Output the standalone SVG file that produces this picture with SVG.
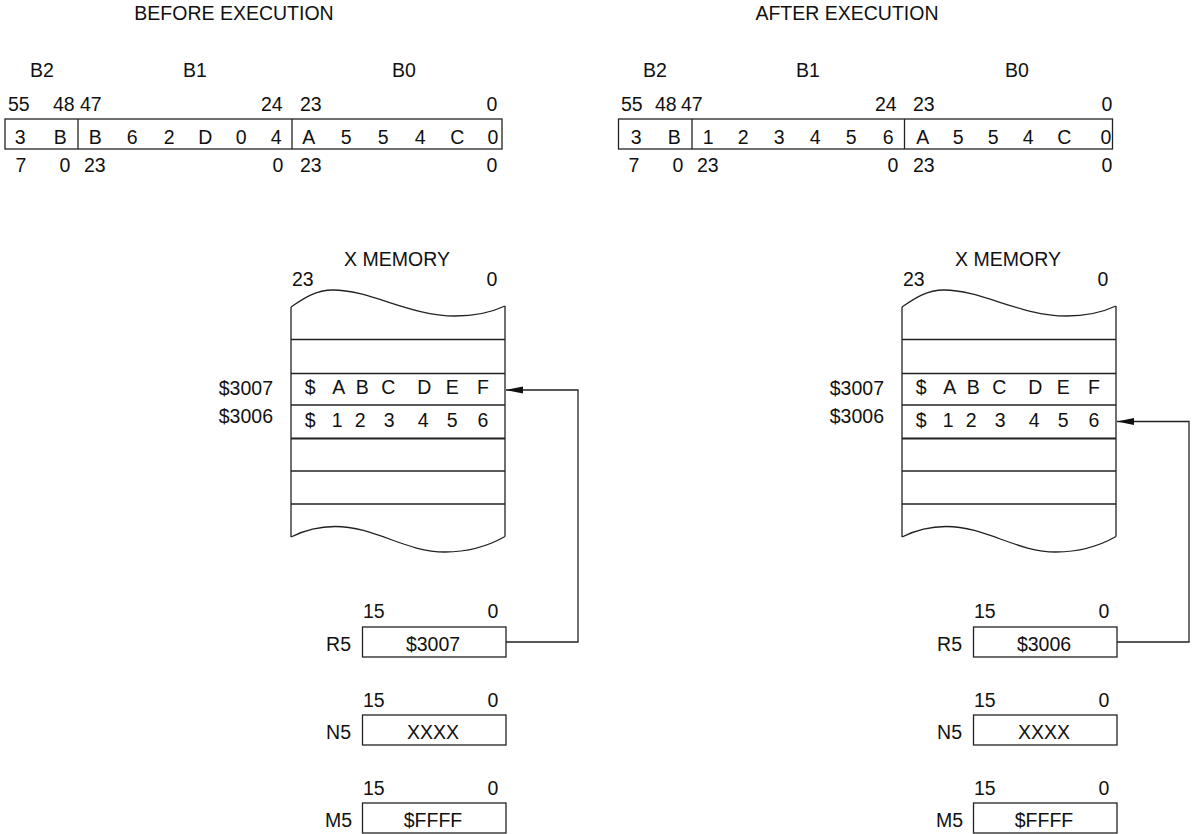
<svg xmlns="http://www.w3.org/2000/svg" width="1196" height="834" viewBox="0 0 1196 834">
<style>
text{font-family:"Liberation Sans",Arial,Helvetica,sans-serif;font-size:19.5px;fill:#111}
.m{text-anchor:middle}
.e{text-anchor:end}
.box{fill:#fff;stroke:#222;stroke-width:1.3}
.ln{fill:none;stroke:#222;stroke-width:1.3}
.thk{fill:none;stroke:#222;stroke-width:2.2}
.con{fill:none;stroke:#222;stroke-width:1.3}
</style>
<defs>
<marker id="ah" markerUnits="userSpaceOnUse" markerWidth="18" markerHeight="8" refX="17" refY="3.5" orient="auto">
<path d="M0,0 L17,3.5 L0,7 Z" fill="#111"/>
</marker>
</defs>

<g id="title-before"><text class="m" x="234" y="20">BEFORE EXECUTION</text></g>
<g id="title-after"><text class="m" x="847" y="20">AFTER EXECUTION</text></g>

<g id="acc-before">
<text class="m" x="42" y="77">B2</text>
<text class="m" x="195" y="77">B1</text>
<text class="m" x="404" y="77">B0</text>
<text x="8" y="111">55</text>
<text x="53" y="111">48</text>
<text x="80" y="111">47</text>
<text x="261" y="111">24</text>
<text x="300" y="111">23</text>
<text class="m" x="492" y="111">0</text>
<rect class="box" x="5" y="119" width="497" height="30"/>
<line class="ln" x1="78" y1="119" x2="78" y2="149"/>
<line class="ln" x1="292" y1="119" x2="292" y2="149"/>
<text class="m" y="144"><tspan x="23">3</tspan> <tspan x="63">B</tspan> <tspan x="98">B</tspan> <tspan x="135">6</tspan> <tspan x="172">2</tspan> <tspan x="208">D</tspan> <tspan x="244">0</tspan> <tspan x="279">4</tspan> <tspan x="311">A</tspan> <tspan x="349">5</tspan> <tspan x="386">5</tspan> <tspan x="423">4</tspan> <tspan x="460">C</tspan> <tspan x="493">0</tspan></text>
<text class="m" x="21" y="172">7</text>
<text class="m" x="65" y="172">0</text>
<text x="84" y="172">23</text>
<text class="m" x="278" y="172">0</text>
<text x="300" y="172">23</text>
<text class="m" x="492" y="172">0</text>
</g>

<g id="acc-after">
<text class="m" x="655" y="77">B2</text>
<text class="m" x="808" y="77">B1</text>
<text class="m" x="1017" y="77">B0</text>
<text x="621" y="111">55</text>
<text x="655" y="111">48</text>
<text x="681" y="111">47</text>
<text x="875" y="111">24</text>
<text x="913" y="111">23</text>
<text class="m" x="1107" y="111">0</text>
<rect class="box" x="618.5" y="119" width="494" height="30"/>
<line class="ln" x1="692" y1="119" x2="692" y2="149"/>
<line class="ln" x1="904.5" y1="119" x2="904.5" y2="149"/>
<text class="m" y="144"><tspan x="639">3</tspan> <tspan x="677">B</tspan> <tspan x="711">1</tspan> <tspan x="746">2</tspan> <tspan x="782">3</tspan> <tspan x="818">4</tspan> <tspan x="854">5</tspan> <tspan x="891">6</tspan> <tspan x="925">A</tspan> <tspan x="961">5</tspan> <tspan x="996">5</tspan> <tspan x="1031">4</tspan> <tspan x="1067">C</tspan> <tspan x="1106">0</tspan></text>
<text class="m" x="634" y="172">7</text>
<text class="m" x="678" y="172">0</text>
<text x="697" y="172">23</text>
<text class="m" x="893" y="172">0</text>
<text x="913" y="172">23</text>
<text class="m" x="1107" y="172">0</text>
</g>

<g id="xmem-before">
<text class="m" x="397" y="266">X MEMORY</text>
<text x="292" y="286">23</text>
<text class="m" x="492" y="286">0</text>
<path class="ln" d="M291,307 C304,298 316,290 333,290 C370,290 410,316 455,316 C475,316 490,313 505,306"/>
<path class="ln" d="M291,537 C305,530 318,526.5 335,526.5 C375,526.5 405,552 445,552 C470,552 490,545 505,536.5"/>
<line class="ln" x1="291" y1="307" x2="291" y2="537"/>
<line class="ln" x1="505" y1="306" x2="505" y2="536.5"/>
<line class="ln" x1="291" y1="339.5" x2="505" y2="339.5"/>
<line class="ln" x1="291" y1="373.5" x2="505" y2="373.5"/>
<line class="ln" x1="291" y1="405" x2="505" y2="405"/>
<line class="thk" x1="291" y1="438.5" x2="505" y2="438.5"/>
<line class="ln" x1="291" y1="471" x2="505" y2="471"/>
<line class="ln" x1="291" y1="504" x2="505" y2="504"/>
<text class="e" x="273" y="395">$3007</text>
<text class="e" x="273" y="422.5">$3006</text>
<text class="m" y="394"><tspan x="313">$</tspan> <tspan x="341">A</tspan> <tspan x="365">B</tspan> <tspan x="391">C</tspan> <tspan x="427">D</tspan> <tspan x="455">E</tspan> <tspan x="483">F</tspan></text>
<text class="m" y="427"><tspan x="313">$</tspan> <tspan x="340">1</tspan> <tspan x="363">2</tspan> <tspan x="392">3</tspan> <tspan x="426">4</tspan> <tspan x="455">5</tspan> <tspan x="483">6</tspan></text>
</g>

<g id="r5-before">
<text x="363" y="618">15</text>
<text class="m" x="493" y="618">0</text>
<text class="e" x="351" y="650.5">R5</text>
<rect class="box" x="362.5" y="627" width="143.5" height="30"/>
<text class="m" x="433" y="650.5">$3007</text>
</g>
<g id="n5-before">
<text x="363" y="706.5">15</text>
<text class="m" x="493" y="706.5">0</text>
<text class="e" x="351" y="739">N5</text>
<rect class="box" x="362.5" y="715" width="143.5" height="30"/>
<text class="m" x="433" y="739">XXXX</text>
</g>
<g id="m5-before">
<text x="363" y="795">15</text>
<text class="m" x="493" y="795">0</text>
<text class="e" x="352" y="827">M5</text>
<rect class="box" x="362.5" y="803" width="143.5" height="30"/>
<text class="m" x="433" y="827">$FFFF</text>
</g>

<g id="xmem-after" transform="translate(611,0)">
<text class="m" x="397" y="266">X MEMORY</text>
<text x="292" y="286">23</text>
<text class="m" x="492" y="286">0</text>
<path class="ln" d="M291,307 C304,298 316,290 333,290 C370,290 410,316 455,316 C475,316 490,313 505,306"/>
<path class="ln" d="M291,537 C305,530 318,526.5 335,526.5 C375,526.5 405,552 445,552 C470,552 490,545 505,536.5"/>
<line class="ln" x1="291" y1="307" x2="291" y2="537"/>
<line class="ln" x1="505" y1="306" x2="505" y2="536.5"/>
<line class="ln" x1="291" y1="339.5" x2="505" y2="339.5"/>
<line class="ln" x1="291" y1="373.5" x2="505" y2="373.5"/>
<line class="ln" x1="291" y1="405" x2="505" y2="405"/>
<line class="thk" x1="291" y1="438.5" x2="505" y2="438.5"/>
<line class="ln" x1="291" y1="471" x2="505" y2="471"/>
<line class="ln" x1="291" y1="504" x2="505" y2="504"/>
<text class="e" x="273" y="395">$3007</text>
<text class="e" x="273" y="422.5">$3006</text>
<text class="m" y="394"><tspan x="313">$</tspan> <tspan x="341">A</tspan> <tspan x="365">B</tspan> <tspan x="391">C</tspan> <tspan x="427">D</tspan> <tspan x="455">E</tspan> <tspan x="483">F</tspan></text>
<text class="m" y="427"><tspan x="313">$</tspan> <tspan x="340">1</tspan> <tspan x="363">2</tspan> <tspan x="392">3</tspan> <tspan x="426">4</tspan> <tspan x="455">5</tspan> <tspan x="483">6</tspan></text>
</g>

<g id="r5-after" transform="translate(611,0)">
<text x="363" y="618">15</text>
<text class="m" x="493" y="618">0</text>
<text class="e" x="351" y="650.5">R5</text>
<rect class="box" x="362.5" y="627" width="143.5" height="30"/>
<text class="m" x="433" y="650.5">$3006</text>
</g>
<g id="n5-after" transform="translate(611,0)">
<text x="363" y="706.5">15</text>
<text class="m" x="493" y="706.5">0</text>
<text class="e" x="351" y="739">N5</text>
<rect class="box" x="362.5" y="715" width="143.5" height="30"/>
<text class="m" x="433" y="739">XXXX</text>
</g>
<g id="m5-after" transform="translate(611,0)">
<text x="363" y="795">15</text>
<text class="m" x="493" y="795">0</text>
<text class="e" x="352" y="827">M5</text>
<rect class="box" x="362.5" y="803" width="143.5" height="30"/>
<text class="m" x="433" y="827">$FFFF</text>
</g>

<g id="connectors">
<path class="con" d="M506,642 H578 V390 H506" marker-end="url(#ah)"/>
<path class="con" d="M1117,642 H1189 V421.5 H1117" marker-end="url(#ah)"/>
</g>
</svg>
